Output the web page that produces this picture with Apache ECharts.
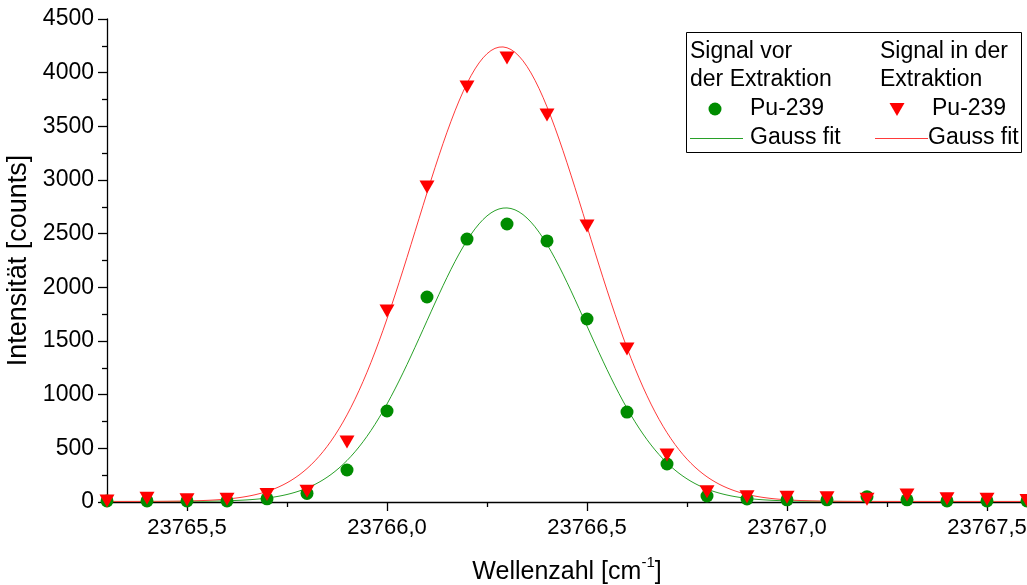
<!DOCTYPE html>
<html>
<head>
<meta charset="utf-8">
<script src="https://cdn.jsdelivr.net/npm/echarts@6/dist/echarts.min.js"></script>
<style>
html,body{margin:0;padding:0;background:#fff;}
#c{width:1027px;height:585px;}
</style>
</head>
<body>
<div id="c"></div>
<script>
// ---- data ----
const wavenumbers = [23765.3,23765.4,23765.5,23765.6,23765.7,23765.8,23765.9,23766.0,23766.1,23766.2,23766.3,23766.4,23766.5,23766.6,23766.7,23766.8,23766.9,23767.0,23767.1,23767.2,23767.3,23767.4,23767.5,23767.6];
const vorValues = [10,10,10,10,30,80,298,848,1910,2450,2590,2432,1705,838,354,56,28,20,20,50,20,10,10,10];
const inValues  = [10,35,20,25,70,100,560,1780,2935,3866,4137,3605,2571,1425,438,95,50,45,40,25,65,30,25,15];
// Gauss fit parameters: [amplitude, centre, sigma, offset]
const vorFit = [2735, 23766.297, 0.200, 5];
const inFit  = [4235, 23766.287, 0.2125, 5];
const xMajorTicks = [23765.5,23766.0,23766.5,23767.0,23767.5];
const xMinorTicks = [23765.75,23766.25,23766.75,23767.25];

const xMin = 23765.3, xMax = 23767.6;
function gaussCurve(p){
  const pts = [];
  for (let i = 0; i <= 230; i++) {
    const x = xMin + i * 0.01;
    pts.push([x, p[3] + p[0] * Math.exp(-Math.pow(x - p[1], 2) / (2 * p[2] * p[2]))]);
  }
  return pts;
}
const pairs = v => wavenumbers.map((x, i) => [x, v[i]]);

const FONT = 'Liberation Sans, Arial, sans-serif';
const GREEN = '#008c00', RED = '#ff0000';
const GREEN_LINE = '#28a028', RED_LINE = '#ff3a3a';

const chart = echarts.init(document.getElementById('c'), null, {renderer: 'canvas'});
const axisCommon = {
  min: xMin, max: xMax,
  axisLine: {lineStyle: {color: '#000', width: 1.3}},
  splitLine: {show: false}
};
chart.setOption({
  animation: false,
  backgroundColor: '#fff',
  grid: {left: 107, right: 0, top: 19, bottom: 83, containLabel: false, outerBoundsMode: 'none'},
  xAxis: [
    Object.assign({}, axisCommon, {
      type: 'value',
      axisTick: {show: true, length: 9, customValues: xMajorTicks, lineStyle: {color: '#000', width: 1.3}},
      axisLabel: {customValues: xMajorTicks, color: '#000', fontFamily: FONT, fontSize: 22, margin: 15,
        formatter: v => v.toFixed(1).replace('.', ',')},
      name: '{a|Wellenzahl [cm}{s|-1}{a|]}',
      nameLocation: 'middle', nameGap: 53,
      nameTextStyle: {rich: {
        a: {fontFamily: FONT, fontSize: 25, color: '#000', verticalAlign: 'bottom', lineHeight: 30},
        s: {fontFamily: FONT, fontSize: 15, color: '#000', verticalAlign: 'top', lineHeight: 30, padding: [0,0,14,0]}
      }}
    }),
    Object.assign({}, axisCommon, {
      type: 'value', position: 'bottom',
      axisLine: {show: false},
      axisTick: {show: true, length: 5, customValues: xMinorTicks, lineStyle: {color: '#000', width: 1.3}},
      axisLabel: {show: false}
    })
  ],
  yAxis: {
    type: 'value', min: 0, max: 4500, interval: 500,
    axisLine: {show: true, lineStyle: {color: '#000', width: 1.3}},
    axisTick: {show: true, length: 9, lineStyle: {color: '#000', width: 1.3}},
    minorTick: {show: true, splitNumber: 2, length: 5, lineStyle: {color: '#000', width: 1.3}},
    splitLine: {show: false},
    axisLabel: {color: '#000', fontFamily: FONT, fontSize: 23, margin: 13, formatter: v => String(v)},
    name: 'Intensität [counts]', nameLocation: 'middle', nameGap: 60,
    nameTextStyle: {fontFamily: FONT, fontSize: 27, color: '#000'}
  },
  series: [
    {type: 'line', name: 'Gauss fit vor', data: gaussCurve(vorFit), showSymbol: false, symbol: 'none',
     lineStyle: {color: GREEN_LINE, width: 1}, z: 2, silent: true},
    {type: 'line', name: 'Gauss fit in', data: gaussCurve(inFit), showSymbol: false, symbol: 'none',
     lineStyle: {color: RED_LINE, width: 1}, z: 2, silent: true},
    {type: 'scatter', name: 'Pu-239 vor', data: pairs(vorValues), symbol: 'circle', symbolSize: 13,
     itemStyle: {color: GREEN, opacity: 1}, z: 3},
    {type: 'scatter', name: 'Pu-239 in', data: pairs(inValues), symbol: 'triangle', symbolSize: [15, 13],
     symbolRotate: 180, itemStyle: {color: RED, opacity: 1}, z: 4}
  ],
  graphic: [
    {type: 'rect', shape: {x: 686.5, y: 32.5, width: 335, height: 120},
     style: {fill: '#fff', stroke: '#000', lineWidth: 1}, z: 10},
    {type: 'text', x: 690, y: 52, z: 11, style: {text: 'Signal vor', font: '23px ' + FONT, fill: '#000', verticalAlign: 'middle'}},
    {type: 'text', x: 690, y: 80, z: 11, style: {text: 'der Extraktion', font: '23px ' + FONT, fill: '#000', verticalAlign: 'middle'}},
    {type: 'circle', shape: {cx: 715, cy: 109, r: 6.5}, style: {fill: GREEN}, z: 11},
    {type: 'text', x: 750, y: 109, z: 11, style: {text: 'Pu-239', font: '23px ' + FONT, fill: '#000', verticalAlign: 'middle'}},
    {type: 'line', shape: {x1: 690, y1: 138.5, x2: 743, y2: 138.5}, style: {stroke: GREEN_LINE, lineWidth: 1}, z: 11},
    {type: 'text', x: 750, y: 138, z: 11, style: {text: 'Gauss fit', font: '23px ' + FONT, fill: '#000', verticalAlign: 'middle'}},
    {type: 'text', x: 880, y: 52, z: 11, style: {text: 'Signal in der', font: '23px ' + FONT, fill: '#000', verticalAlign: 'middle'}},
    {type: 'text', x: 880, y: 80, z: 11, style: {text: 'Extraktion', font: '23px ' + FONT, fill: '#000', verticalAlign: 'middle'}},
    {type: 'polygon', shape: {points: [[889.5, 103], [904.5, 103], [897, 116]]}, style: {fill: RED}, z: 11},
    {type: 'text', x: 932, y: 109, z: 11, style: {text: 'Pu-239', font: '23px ' + FONT, fill: '#000', verticalAlign: 'middle'}},
    {type: 'line', shape: {x1: 875, y1: 138.5, x2: 928, y2: 138.5}, style: {stroke: RED_LINE, lineWidth: 1}, z: 11},
    {type: 'text', x: 928, y: 138, z: 11, style: {text: 'Gauss fit', font: '23px ' + FONT, fill: '#000', verticalAlign: 'middle'}}
  ]
});
</script>
</body>
</html>
